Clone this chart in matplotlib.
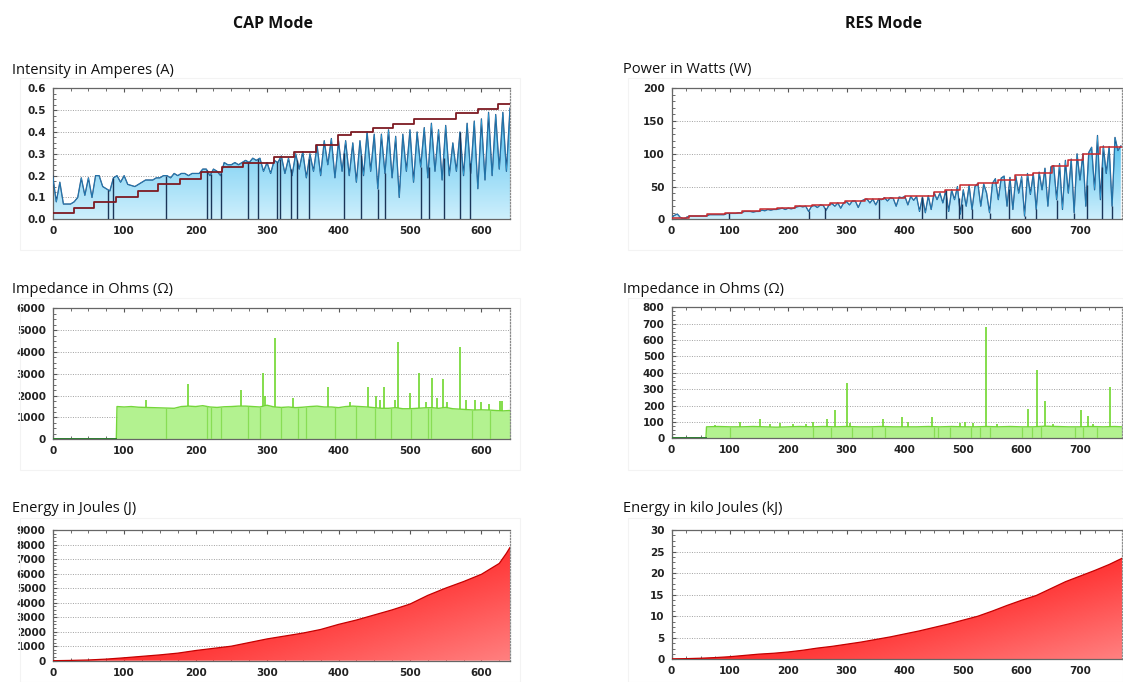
import numpy as np
import matplotlib
matplotlib.use('Agg')
import matplotlib.pyplot as plt
from matplotlib.colors import LinearSegmentedColormap
from matplotlib.ticker import MultipleLocator, FormatStrFormatter
from matplotlib.patches import Rectangle

# ---------------- CAP mode ----------------
# current (A), one sample every 5 s
cap_amp_x = np.arange(0, 650, 5)
cap_amp_y = [
    0.20, 0.08, 0.17, 0.07, 0.07, 0.07, 0.08, 0.10, 0.19, 0.11,
    0.19, 0.10, 0.20, 0.20, 0.15, 0.14, 0.13, 0.19, 0.20, 0.17,
    0.20, 0.16, 0.155, 0.15, 0.16, 0.17, 0.18, 0.18, 0.18, 0.19,
    0.19, 0.20, 0.20, 0.19, 0.21, 0.20, 0.21, 0.21, 0.20, 0.21,
    0.21, 0.21, 0.23, 0.23, 0.20, 0.23, 0.22, 0.20, 0.26, 0.25,
    0.25, 0.26, 0.25, 0.26, 0.27, 0.26, 0.28, 0.27, 0.28, 0.22,
    0.26, 0.21, 0.27, 0.26, 0.29, 0.21, 0.28, 0.20, 0.30, 0.23,
    0.31, 0.19, 0.30, 0.22, 0.34, 0.20, 0.36, 0.25, 0.37, 0.19,
    0.36, 0.22, 0.36, 0.20, 0.35, 0.17, 0.36, 0.20, 0.40, 0.22,
    0.39, 0.14, 0.39, 0.21, 0.41, 0.19, 0.38, 0.10, 0.39, 0.22,
    0.41, 0.17, 0.40, 0.24, 0.42, 0.19, 0.44, 0.22, 0.41, 0.18,
    0.43, 0.20, 0.35, 0.22, 0.40, 0.20, 0.44, 0.21, 0.45, 0.14,
    0.46, 0.18, 0.49, 0.20, 0.48, 0.23, 0.49, 0.22, 0.51, 0.45,
]
cap_amp_dips = [78, 85, 158, 216, 221, 236, 273, 287, 314, 318, 333, 342,
                359, 408, 432, 455, 465, 515, 526, 547, 570, 584]
# current limit (step line)
cap_lim_x = [0, 30, 58, 89, 119, 147, 178, 208, 237, 266, 310, 338, 369,
             399, 418, 448, 476, 506, 565, 595, 623]
cap_lim_y = [0.03, 0.053, 0.078, 0.10, 0.13, 0.16, 0.185, 0.215, 0.24, 0.26,
             0.285, 0.31, 0.34, 0.385, 0.40, 0.42, 0.435, 0.46, 0.485, 0.505, 0.527]

# impedance (ohm)
cap_imp_x = [0, 89] + list(range(90, 641, 10)) + [645]
cap_imp_y = [0, 0,
    1500, 1480, 1500, 1470, 1460, 1450, 1440, 1430, 1420, 1500,
    1520, 1500, 1540, 1480, 1460, 1490, 1500, 1520, 1520, 1500,
    1480, 1560, 1480, 1460, 1480, 1450, 1470, 1500, 1520, 1480,
    1480, 1450, 1500, 1520, 1500, 1480, 1450, 1420, 1420, 1450,
    1400, 1400, 1420, 1440, 1450, 1420, 1460, 1400, 1380, 1360,
    1340, 1350, 1340, 1320, 1300, 1320,
    1300]
cap_imp_spk_x = [130, 189, 263, 294, 297, 311, 336, 385, 416, 441,
                 452, 458, 464, 479, 483, 500, 512, 523, 531, 538,
                 546, 552, 570, 579, 591, 600, 611, 626, 629]
cap_imp_spk_y = [1800, 2550, 2250, 3050, 2000, 4650, 1900, 2400, 1700, 2400,
                 2000, 1800, 2400, 1800, 4450, 2100, 3050, 1700, 2800, 1900,
                 2750, 1700, 4250, 1800, 1800, 1700, 1600, 1750, 1750]
cap_imp_dips = [159, 216, 221, 236, 274, 290, 320, 343, 355, 395, 425, 451,
                474, 502, 525, 529, 587, 612]

# energy (J)
cap_en_x = [0, 25, 50, 75, 100, 125, 150, 175, 200, 225, 250, 275, 300, 325,
            350, 375, 400, 425, 450, 475, 500, 525, 550, 575, 600, 615, 625,
            635, 640, 645]
cap_en_y = [0, 20, 50, 110, 200, 300, 400, 520, 700, 850, 1000, 1250, 1500, 1700,
            1900, 2150, 2500, 2800, 3150, 3500, 3900, 4500, 5000, 5450, 5950, 6400,
            6700, 7400, 7800, 7900]

# ---------------- RES mode ----------------
res_pow_x = np.arange(0, 775, 5)
res_pow_y = [
    3, 6, 8, 3, 1, 2, 5, 5, 5, 5,
    5, 5, 5, 7, 7, 7, 7, 7, 7, 9,
    9, 9, 9, 10, 10, 12, 12, 12, 11, 12,
    12, 14, 13, 15, 14, 15, 15, 16, 17, 15,
    17, 16, 17, 19, 20, 19, 20, 12, 20, 21,
    18, 22, 21, 14, 22, 24, 20, 25, 17, 25,
    27, 22, 28, 28, 18, 28, 30, 31, 25, 31,
    22, 31, 30, 33, 28, 33, 32, 20, 34, 33,
    35, 22, 35, 29, 35, 12, 34, 10, 36, 15,
    41, 30, 40, 25, 44, 12, 45, 30, 50, 8,
    45, 20, 52, 15, 50, 55, 20, 54, 40, 10,
    55, 62, 30, 63, 66, 20, 64, 15, 66, 40,
    65, 5, 70, 38, 70, 15, 72, 45, 78, 20,
    80, 82, 30, 85, 15, 90, 40, 92, 10, 100,
    60, 100, 20, 102, 110, 45, 128, 30, 112, 70,
    111, 20, 125, 105, 112,
]
res_pow_dips = [98, 235, 263, 355, 430, 470, 492, 497, 515, 545, 578, 605,
                625, 660, 690, 712, 738, 755]
res_lim_x = [0, 30, 61, 92, 121, 152, 181, 212, 241, 272, 298, 332, 365,
             400, 449, 469, 495, 526, 560, 589, 620, 652, 680, 705, 735]
res_lim_y = [2.5, 5, 7.5, 10, 12.5, 15, 17, 20, 22, 25, 28, 31, 33,
             35, 41, 45, 52, 55, 60, 67, 70, 81, 90, 100, 111]

res_imp_x = [0, 59] + list(range(60, 771, 20)) + [772]
res_imp_y = [0, 0,
    70, 72, 70, 70, 72, 70, 68, 70, 72, 70, 72, 70,
    72, 70, 70, 72, 70, 70, 70, 72, 70, 72, 70, 70,
    72, 70, 72, 70, 70, 74, 72, 70, 70, 72, 70, 72,
    70]
res_imp_spk_x = [74, 117, 151, 169, 186, 209, 231, 243, 266, 280,
                 301, 306, 363, 395, 405, 447, 494, 503, 517, 539,
                 557, 611, 626, 640, 654, 702, 714, 723, 751]
res_imp_spk_y = [80, 100, 115, 90, 95, 90, 90, 100, 120, 170,
                 340, 95, 115, 130, 100, 130, 95, 100, 95, 680,
                 85, 180, 415, 230, 85, 175, 135, 90, 315]
res_imp_dips = [100, 243, 274, 309, 343, 366, 449, 457, 477, 514, 529, 546,
                600, 617, 634, 691, 706, 729]

res_en_x = [0, 25, 50, 75, 100, 125, 150, 175, 200, 225, 250, 275, 300, 325,
            350, 375, 400, 425, 450, 475, 500, 525, 550, 575, 600, 625, 650,
            675, 700, 725, 750, 773]
res_en_y = [0.1, 0.15, 0.25, 0.4, 0.6, 0.9, 1.2, 1.4, 1.7, 2.1, 2.6, 3.0, 3.5,
            4.0, 4.6, 5.2, 5.9, 6.6, 7.4, 8.2, 9.1, 10.0, 11.2, 12.5, 13.7,
            14.8, 16.4, 18.0, 19.3, 20.6, 22.0, 23.5]

W, H = 1123, 682
fig = plt.figure(figsize=(W / 100, H / 100), dpi=100)
fig.patch.set_facecolor('white')

TXT = ['Open Sans', 'DejaVu Sans']


def px_axes(x0, y0, x1, y1):
    return fig.add_axes([x0 / W, 1 - y1 / H, (x1 - x0) / W, (y1 - y0) / H])


def style(ax, xmax, ymax, ystep, yminor, yfmt='%d'):
    ax.set_xlim(0, xmax)
    ax.set_ylim(0, ymax)
    ax.xaxis.set_major_locator(MultipleLocator(100))
    ax.xaxis.set_minor_locator(MultipleLocator(25))
    ax.yaxis.set_major_locator(MultipleLocator(ystep))
    ax.yaxis.set_minor_locator(MultipleLocator(yminor))
    ax.yaxis.set_major_formatter(FormatStrFormatter(yfmt))
    ax.tick_params(which='both', direction='in', top=True, right=False,
                   color='#555555', labelcolor='#222222')
    ax.tick_params(which='major', length=3, width=0.8, labelsize=7.5, pad=5)
    ax.tick_params(which='minor', length=2, width=0.6)
    for lbl in ax.get_xticklabels() + ax.get_yticklabels():
        lbl.set_fontweight('bold')
        lbl.set_family('DejaVu Sans')
    ax.set_axisbelow(True)
    ax.grid(axis='y', which='major', linestyle=(0, (1, 1.5)), color='#a0a0a0', lw=0.7)
    for s in ax.spines.values():
        s.set_color('#666666')
        s.set_linewidth(0.9)
    ax.spines['right'].set_linestyle((0, (1, 1.5)))
    ax.spines['right'].set_color('#8a8a8a')


def grad_fill(ax, x, y, colors, diag=False, z=2):
    poly = ax.fill_between(x, 0, y, facecolor='none', edgecolor='none')
    yy = np.linspace(0, 1, 80)[:, None]
    xx = np.linspace(0, 1, 80)[None, :]
    if diag:
        t = 0.55 * xx + 0.45 * (1 - yy)
    else:
        t = (1 - yy) * np.ones_like(xx)
    cmap = LinearSegmentedColormap.from_list('g', colors)
    im = ax.imshow(t, cmap=cmap, vmin=0, vmax=1, origin='lower',
                   extent=[0, max(x), 0, max(y)], aspect='auto', zorder=z,
                   interpolation='bilinear')
    im.set_clip_path(poly.get_paths()[0], transform=ax.transData)


# faint panel frames
for (x0, x1) in [(20, 520), (628, 1123)]:
    for (y0, y1) in [(78, 250), (298, 470), (518, 682)]:
        fig.patches.append(Rectangle((x0 / W, 1 - y1 / H), (x1 - x0) / W, (y1 - y0) / H,
                                     transform=fig.transFigure, fill=False,
                                     edgecolor='#f3f3f3', lw=0.8))

fig.text(273 / W, 1 - 24 / H, 'CAP Mode', ha='center', va='center', fontsize=11.5,
         fontweight='bold', family=TXT, color='#111111')
fig.text(884 / W, 1 - 24 / H, 'RES Mode', ha='center', va='center', fontsize=11.5,
         fontweight='bold', family=TXT, color='#111111')

subtitles = [
    (12, 70, 'Intensity in Amperes (A)'), (623, 70, 'Power in Watts (W)'),
    (12, 289, 'Impedance in Ohms (\u03a9)'), (623, 289, 'Impedance in Ohms (\u03a9)'),
    (12, 509, 'Energy in Joules (J)'), (623, 509, 'Energy in kilo Joules (kJ)'),
]
for x, y, s in subtitles:
    fig.text(x / W, 1 - y / H, s, ha='left', va='center', fontsize=10.5,
             family=TXT, color='#111111')

# ---- CAP current
ax = px_axes(52.7, 88.3, 510, 219.3)
grad_fill(ax, cap_amp_x, cap_amp_y, ['#4fbfee', '#cdeffc'])
ax.plot(cap_amp_x, cap_amp_y, color='#1b3d70', lw=0.9, zorder=3)
ax.plot(cap_amp_x, cap_amp_y, color='#2aa8e0', lw=0.35, zorder=3)
dip_top = np.interp(cap_amp_dips, cap_amp_x, cap_amp_y)
ax.vlines(cap_amp_dips, 0, dip_top, color='#1b3558', lw=1.0, zorder=3)
ax.step(cap_lim_x + [645], cap_lim_y + [cap_lim_y[-1]], where='post',
        color='#7d1a22', lw=1.3, zorder=4)
style(ax, 640, 0.6, 0.1, 0.025, '%.1f')

# ---- RES power
ax = px_axes(671.5, 88.3, 1122, 219.3)
grad_fill(ax, res_pow_x, res_pow_y, ['#4fbfee', '#cdeffc'])
ax.plot(res_pow_x, res_pow_y, color='#1b3d70', lw=0.9, zorder=3)
ax.plot(res_pow_x, res_pow_y, color='#2aa8e0', lw=0.35, zorder=3)
dip_top = np.interp(res_pow_dips, res_pow_x, res_pow_y)
ax.vlines(res_pow_dips, 0, dip_top, color='#1b3558', lw=1.0, zorder=3)
ax.step(res_lim_x + [773], res_lim_y + [res_lim_y[-1]], where='post',
        color='#c8282c', lw=1.1, zorder=4)
style(ax, 772, 200, 50, 10)

# ---- CAP impedance
ax = px_axes(52.7, 308.3, 510, 439.3)
ax.fill_between(cap_imp_x, 0, cap_imp_y, color='#b3f290', lw=0, zorder=2)
ax.plot(cap_imp_x, cap_imp_y, color='#74d63a', lw=1.0, zorder=3)
ax.plot([0, 89], [0, 0], color='#2f7d32', lw=1.4, zorder=3)
base = np.interp(cap_imp_dips, cap_imp_x, cap_imp_y)
ax.vlines(cap_imp_dips, 0, base, color='#88dd55', lw=0.9, zorder=3)
base = np.interp(cap_imp_spk_x, cap_imp_x, cap_imp_y)
ax.vlines(cap_imp_spk_x, base, cap_imp_spk_y, color='#6fd72e', lw=1.2, zorder=3)
style(ax, 640, 6000, 1000, 250)

# ---- RES impedance
ax = px_axes(671.5, 307.3, 1122, 438.3)
ax.fill_between(res_imp_x, 0, res_imp_y, color='#b3f290', lw=0, zorder=2)
ax.plot(res_imp_x, res_imp_y, color='#74d63a', lw=1.0, zorder=3)
ax.plot([0, 59], [0, 0], color='#2f7d32', lw=1.4, zorder=3)
base = np.interp(res_imp_dips, res_imp_x, res_imp_y)
ax.vlines(res_imp_dips, 0, base, color='#88dd55', lw=0.9, zorder=3)
base = np.interp(res_imp_spk_x, res_imp_x, res_imp_y)
ax.vlines(res_imp_spk_x, base, res_imp_spk_y, color='#6fd72e', lw=1.2, zorder=3)
style(ax, 772, 800, 100, 25)

# ---- CAP energy
ax = px_axes(52.7, 530, 510, 660.7)
grad_fill(ax, cap_en_x, cap_en_y, ['#d40000', '#ff2a2a', '#ff8080'], diag=True)
ax.plot(cap_en_x, cap_en_y, color='#c40000', lw=0.9, zorder=3)
style(ax, 640, 9000, 1000, 250)

# ---- RES energy
ax = px_axes(671.5, 530, 1122, 659.3)
grad_fill(ax, res_en_x, res_en_y, ['#d40000', '#ff2a2a', '#ff8080'], diag=True)
ax.plot(res_en_x, res_en_y, color='#c40000', lw=0.9, zorder=3)
style(ax, 772, 30, 5, 1.25)

fig.savefig('out.png', dpi=100, facecolor='white')
